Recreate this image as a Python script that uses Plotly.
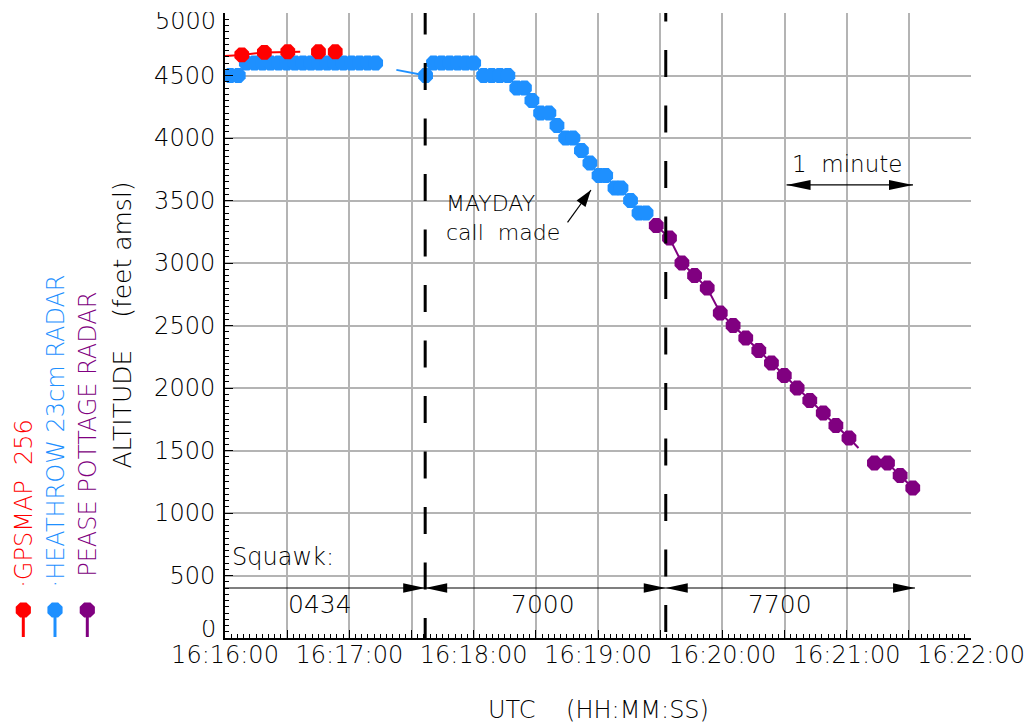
import math
import pandas as pd
import plotly.graph_objects as go

DAY = "2024-01-01 "

# ---------------- data ----------------
gps_times = ["16:16:08.1", "16:16:19.0", "16:16:30.3", "16:16:45.1", "16:16:53.2"]
gps_alt = [4665, 4685, 4690, 4690, 4690]
gps_track_times = ["16:15:55.0", "16:16:08.1", "16:16:19.0", "16:16:30.3", "16:16:36.3"]
gps_track_alt = [4650, 4665, 4685, 4690, 4690]

heathrow_times = [
    "16:16:02.5", "16:16:06.4",
    "16:16:10.3", "16:16:14.2", "16:16:18.1", "16:16:22.0", "16:16:25.9", "16:16:29.8",
    "16:16:33.7", "16:16:37.6", "16:16:41.5", "16:16:45.4", "16:16:49.3", "16:16:53.2",
    "16:16:57.1", "16:17:01.0", "16:17:04.9", "16:17:08.8", "16:17:12.7",
    None,
    "16:17:36.8",
    "16:17:40.6", "16:17:44.5", "16:17:48.4", "16:17:52.3", "16:17:56.1", "16:18:00.0",
    "16:18:04.8", "16:18:08.7", "16:18:12.6", "16:18:16.5",
    "16:18:20.8", "16:18:24.5",
    "16:18:28.1",
    "16:18:32.3", "16:18:36.3",
    "16:18:40.2",
    "16:18:44.4", "16:18:47.9",
    "16:18:52.0",
    "16:18:56.1",
    "16:19:00.5", "16:19:03.7",
    "16:19:08.2", "16:19:11.1",
    "16:19:15.7",
    "16:19:19.8", "16:19:23.2",
]
heathrow_alt = [
    4500, 4500,
    4600, 4600, 4600, 4600, 4600, 4600,
    4600, 4600, 4600, 4600, 4600, 4600,
    4600, 4600, 4600, 4600, 4600,
    None,
    4500,
    4600, 4600, 4600, 4600, 4600, 4600,
    4500, 4500, 4500, 4500,
    4400, 4400,
    4300,
    4200, 4200,
    4100,
    4000, 4000,
    3900,
    3800,
    3700, 3700,
    3600, 3600,
    3500,
    3400, 3400,
]
heathrow_gap_times = ["16:17:22.7", "16:17:36.8"]
heathrow_gap_alt = [4545, 4500]

pease_times = [
    "16:19:28.1", "16:19:34.5", "16:19:40.5", "16:19:46.6", "16:19:52.7", "16:19:59.0",
    "16:20:05.2", "16:20:11.3", "16:20:17.6", "16:20:23.7", "16:20:29.9", "16:20:36.1",
    "16:20:42.2", "16:20:48.7", "16:20:54.8", "16:21:01.1",
    None,
    "16:21:13.4", "16:21:19.7", "16:21:25.8", "16:21:31.9",
]
pease_alt = [
    3300, 3200, 3000, 2900, 2800, 2600,
    2500, 2400, 2300, 2200, 2100, 2000,
    1900, 1800, 1700, 1600,
    None,
    1400, 1400, 1300, 1200,
]
pease_gap_times = ["16:21:01.1", "16:21:05.7"]
pease_gap_alt = [1600, 1520]

squawk_codes = ["0434", "7000", "7700"]
squawk_change_times = ["16:17:36.6", "16:19:32.7"]
squawk_end_time = "16:21:33.0"
squawk_label_times = ["16:16:46.0", "16:18:33.5", "16:20:27.6"]
squawk_level = 400

x_tick_start = "16:16:00"
x_tick_end = "16:22:00"
y_ticks = [0, 500, 1000, 1500, 2000, 2500, 3000, 3500, 4000, 4500, 5000]

series_names = ["GPSMAP\u00a0\u00a0256", "HEATHROW\u00a023cm\u00a0RADAR", "PEASE\u00a0POTTAGE\u00a0RADAR"]
series_colors = ["#ff0000", "#1e90ff", "#800080"]


def ts(t):
    return None if t is None else pd.Timestamp(DAY + t)


def tl(lst):
    return [ts(t) for t in lst]


TXT = "#000000"
FAM = "DejaVu Sans"
GRID = "#b4b4b4"


def F(size, color=TXT):
    return dict(family=FAM, size=size, color=color, weight=200)


TICKFONT = F(24)

fig = go.Figure()

# data traces
fig.add_trace(go.Scatter(x=tl(pease_gap_times), y=pease_gap_alt, mode="lines",
                         line=dict(color=series_colors[2], width=2), hoverinfo="skip"))
fig.add_trace(go.Scatter(x=tl(pease_times), y=pease_alt, mode="lines+markers",
                         line=dict(color=series_colors[2], width=2),
                         marker=dict(symbol="octagon", size=16, color=series_colors[2], line=dict(width=0)),
                         connectgaps=False))
fig.add_trace(go.Scatter(x=tl(heathrow_gap_times), y=heathrow_gap_alt, mode="lines",
                         line=dict(color=series_colors[1], width=2), hoverinfo="skip"))
fig.add_trace(go.Scatter(x=tl(heathrow_times), y=heathrow_alt, mode="lines+markers",
                         line=dict(color=series_colors[1], width=2),
                         marker=dict(symbol="octagon", size=16, color=series_colors[1], line=dict(width=0)),
                         connectgaps=False))
fig.add_trace(go.Scatter(x=tl(gps_track_times), y=gps_track_alt, mode="lines",
                         line=dict(color=series_colors[0], width=2), hoverinfo="skip"))
fig.add_trace(go.Scatter(x=tl(gps_times), y=gps_alt, mode="markers",
                         marker=dict(symbol="octagon", size=16, color=series_colors[0], line=dict(width=0))))
# carrier for the fine minor-tick axis
fig.add_trace(go.Scatter(x=tl(gps_times), y=gps_alt, mode="none", xaxis="x2",
                         hoverinfo="skip"))

xr = [ts(x_tick_start), ts(x_tick_end)]

shapes = []


def arrow_head(x, y, angle_deg, length=22, half=4.8):
    a = math.radians(angle_deg)
    ux, uy = math.cos(a), math.sin(a)
    bx, by = -length * ux, -length * uy
    px, py = -uy * half, ux * half
    path = f"M0,0 L{bx + px:.2f},{by + py:.2f} L{bx - px:.2f},{by - py:.2f} Z"
    return dict(type="path", xref="x", yref="y", xsizemode="pixel", ysizemode="pixel",
                xanchor=x, yanchor=y, path=path, fillcolor="black",
                line=dict(width=0), layer="above")


# dashed squawk-change lines
for t, start in zip(squawk_change_times, [-56, -396]):
    shapes.append(dict(type="line", xref="x", yref="y", x0=ts(t), x1=ts(t), y0=start, y1=5400,
                       line=dict(color="black", width=3, dash="27px,28.5px"), layer="above"))

# squawk arrow line
shapes.append(dict(type="line", xref="x", yref="y", x0=xr[0], x1=ts(squawk_end_time),
                   y0=squawk_level, y1=squawk_level, line=dict(color="black", width=1.2)))
for t in squawk_change_times:
    shapes.append(arrow_head(ts(t), squawk_level, 0))
    shapes.append(arrow_head(ts(t), squawk_level, 180))
shapes.append(arrow_head(ts(squawk_end_time), squawk_level, 0))

# 1 minute scale arrow
m0, m1, my = ts("16:20:31.0"), ts("16:21:32.0"), 3625
shapes.append(dict(type="line", xref="x", yref="y", x0=m0, x1=m1, y0=my, y1=my,
                   line=dict(color="black", width=1.2)))
shapes.append(arrow_head(m0, my, 180, length=24, half=5))
shapes.append(arrow_head(m1, my, 0, length=24, half=5))

# MAYDAY arrow
tail = (ts("16:18:45.3"), 3325)
tip = (ts("16:18:56.6"), 3584)
shapes.append(dict(type="line", xref="x", yref="y", x0=tail[0], y0=tail[1], x1=tip[0], y1=tip[1],
                   line=dict(color="black", width=1.2)))
shapes.append(arrow_head(tip[0], tip[1], math.degrees(math.atan2(32.4, 23.3)), length=17, half=5.5))

# legend symbols (octagon + hanging stem) in the left margin
W_PLOT, H_PLOT = 746, 625
leg_x_px = [23.3, 55.0, 87.3]
oct_r = 8.2
oct_path = "M" + " L".join(
    f"{oct_r * math.cos(math.radians(22.5 + 45 * k)):.2f},{oct_r * math.sin(math.radians(22.5 + 45 * k)):.2f}"
    for k in range(8)) + " Z"
for xp, col in zip(leg_x_px, series_colors):
    xpaper = (xp - 225) / W_PLOT
    shapes.append(dict(type="line", xref="paper", yref="paper", x0=xpaper, x1=xpaper,
                       y0=(638 - 610) / H_PLOT, y1=(638 - 637) / H_PLOT,
                       line=dict(color=col, width=3)))
    shapes.append(dict(type="path", xref="paper", yref="paper", xsizemode="pixel", ysizemode="pixel",
                       xanchor=xpaper, yanchor=(638 - 610) / H_PLOT, path=oct_path,
                       fillcolor=col, line=dict(width=0)))

annotations = []
# legend labels
prefixes = ["·", "·", ""]
leg_bottom_px = [590, 590, 579]
for xp, col, name, pre, yb in zip(leg_x_px, series_colors, series_names, prefixes, leg_bottom_px):
    annotations.append(dict(x=(xp - 225) / W_PLOT, y=(638 - yb) / H_PLOT, xref="paper", yref="paper",
                            text=pre + name, textangle=-90, showarrow=False,
                            xanchor="center", yanchor="bottom", font=F(24, col)))
# axis titles
annotations.append(dict(x=(122 - 225) / W_PLOT, y=0.5, xref="paper", yref="paper",
                        text="ALTITUDE\u00a0\u00a0\u00a0\u00a0(feet\u00a0amsl)", textangle=-90,
                        showarrow=False, xanchor="center", yanchor="middle", font=F(25)))
annotations.append(dict(x=0.5, y=(638 - 710) / H_PLOT, xref="paper", yref="paper",
                        text="UTC\u00a0\u00a0\u00a0\u00a0(HH:MM:SS)", showarrow=False,
                        xanchor="center", yanchor="middle", font=F(24)))
# end y tick labels, nudged inside like the reference
for v, shift in [(y_ticks[0], 9), (y_ticks[-1], -8)]:
    annotations.append(dict(x=0, y=v, xref="paper", yref="y", text=str(v), showarrow=False,
                            xanchor="right", yanchor="middle", xshift=-8, yshift=shift,
                            height=18, borderpad=0, font=TICKFONT))
# squawk labels
annotations.append(dict(x=ts("16:16:02.5"), y=650, xref="x", yref="y", text="Squawk:",
                        showarrow=False, xanchor="left", yanchor="middle", font=F(24)))
for t, code in zip(squawk_label_times, squawk_codes):
    annotations.append(dict(x=ts(t), y=270, xref="x", yref="y", text=code, showarrow=False,
                            xanchor="center", yanchor="middle", font=F(25)))
# MAYDAY text
annotations.append(dict(x=ts("16:17:45.5"), y=3358, xref="x", yref="y",
                        text="MAYDAY<br>call\u00a0\u00a0made", align="left",
                        showarrow=False, xanchor="left", yanchor="middle", font=F(22)))
annotations.append(dict(x=ts("16:21:00"), y=3790, xref="x", yref="y", text="1\u00a0\u00a0minute",
                        showarrow=False, xanchor="center", yanchor="middle", font=F(23)))

fig.update_layout(
    width=1032, height=724,
    margin=dict(l=225, r=61, t=13, b=86, pad=0),
    paper_bgcolor="white", plot_bgcolor="white",
    showlegend=False,
    shapes=shapes, annotations=annotations,
    xaxis=dict(type="date", range=xr, tick0=xr[0], dtick=60000, tickformat="%H:%M:%S",
               ticks="inside", ticklen=8, tickcolor="black", tickwidth=1,
               showgrid=True, gridcolor=GRID, gridwidth=1.5,
               minor=dict(dtick=30000, tick0=xr[0], showgrid=True, gridcolor=GRID, gridwidth=1.5,
                          ticks="inside", ticklen=8, tickcolor="black"),
               showline=True, linecolor="black", linewidth=2, zeroline=False,
               tickfont=TICKFONT, ticklabelstandoff=-6, automargin=False),
    xaxis2=dict(type="date", overlaying="x", matches="x", range=xr, tick0=xr[0], dtick=3000,
                ticks="inside", ticklen=4, tickcolor="black", showticklabels=False,
                showgrid=False, showline=False, zeroline=False, anchor="y", side="bottom",
                automargin=False),
    yaxis=dict(range=[0, 5000], tickmode="array", tickvals=y_ticks,
               ticktext=["" if v in (y_ticks[0], y_ticks[-1]) else str(v) for v in y_ticks],
               ticks="inside", ticklen=8, tickcolor="black",
               showgrid=True, gridcolor=GRID, gridwidth=1.5,
               minor=dict(dtick=50, ticks="inside", ticklen=4, tickcolor="black", showgrid=False),
               showline=True, linecolor="black", linewidth=2, zeroline=False,
               tickfont=TICKFONT, ticklabelstandoff=3, automargin=False),
)

fig.write_html("out.html", config={"displayModeBar": False},
               post_script="document.body.style.margin='0';")
